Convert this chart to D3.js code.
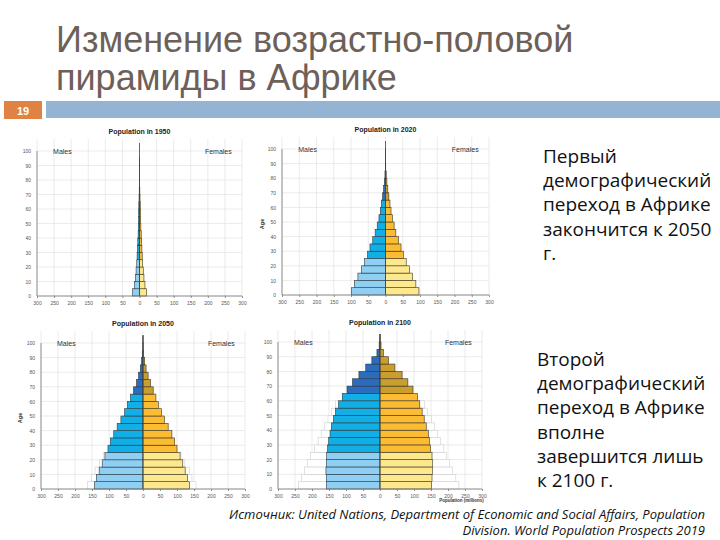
<!DOCTYPE html>
<html lang="ru">
<head>
<meta charset="UTF-8">
<title>Изменение возрастно-половой пирамиды в Африке</title>
<script src="https://d3js.org/d3.v7.min.js"></script>
<style>
  body, html { margin: 0; padding: 0; background: #fff; }
  svg { display: block; }
  .axis text { font-family: "Liberation Sans", Arial, sans-serif; font-size: 5px; fill: #555; }
  .axis path, .axis line { stroke: #777; stroke-width: 0.8; }
</style>
</head>
<body>
<div id="chart"></div>
<script>
// age groups (start of 5-year band), 0-4 ... 100+
const ageStarts = d3.range(0, 105, 5);

// population, millions, per 5-year group
const males1950   = [20, 15, 12, 10, 8, 7, 6, 5, 4, 3.5, 3, 2.5, 2, 1.3, 0.8, 0.4, 0.15, 0.04, 0.01, 0, 0];
const females1950 = [21, 16, 13, 11, 9, 8, 7, 6, 5, 4, 3.5, 3, 2.3, 1.5, 1, 0.5, 0.2, 0.05, 0.01, 0, 0];

const males2020   = [99, 90, 80, 70, 61, 52, 45, 37, 30, 24, 19, 15, 12, 8.5, 5.6, 3.3, 1.6, 0.5, 0.1, 0.01, 0];
const females2020 = [97, 88, 78, 69, 60, 52, 45, 38, 30, 25, 20, 16, 13, 9.7, 6.7, 4.1, 2.1, 0.7, 0.15, 0.02, 0];

const males2050   = [143, 137, 129, 120, 112, 103, 96, 86, 76, 65, 54, 46, 37, 28, 19, 13, 8, 4, 1.5, 0.4, 0.05];
const females2050 = [137, 131, 124, 117, 109, 100, 93, 85, 74, 63, 54, 45, 38, 30, 22, 15, 9, 5, 2, 0.6, 0.1];
const upperMales2050   = [163, 151, 141, 128, 117];
const upperFemales2050 = [156, 144, 136, 123, 112];

const males2100   = [158, 158, 159, 158, 157, 154, 151, 147, 143, 137, 131, 122, 111, 97, 81, 62, 42, 24, 9, 2.5, 0.5];
const females2100 = [152, 153, 154, 154, 153, 149, 145, 142, 136, 130, 124, 117, 110, 97, 82, 65, 44, 25, 10, 3, 0.5];
const upperMales2100   = [240, 231, 222, 213, 204, 193, 182, 173, 164, 153, 142, 131];
const upperFemales2100 = [232, 223, 214, 205, 196, 188, 178, 170, 160, 151, 139, 131];

const xTicks = d3.range(-300, 301, 50);
const ageTicks = d3.range(0, 101, 10);

const noteFirst = ["Первый", "демографический", "переход в Африке", "закончится к 2050", "г."];
const noteSecond = ["Второй", "демографический", "переход в Африке", "вполне", "завершится лишь", "к 2100 г."];

const W = 720, H = 540;
const svg = d3.select("#chart").append("svg").attr("width", W).attr("height", H);

// slide header
const title = svg.append("text")
  .attr("font-family", "'Liberation Sans', Arial, sans-serif")
  .attr("font-size", 36)
  .attr("fill", "#6d6059");
title.append("tspan").attr("x", 56).attr("y", 52).text("Изменение возрастно-половой");
title.append("tspan").attr("x", 56).attr("y", 90).text("пирамиды в Африке");

svg.append("rect").attr("x", 4).attr("y", 101).attr("width", 38).attr("height", 18).attr("fill", "#df8244");
svg.append("text").attr("x", 23).attr("y", 114.5).attr("text-anchor", "middle")
  .attr("font-family", "'Liberation Sans', Arial, sans-serif").attr("font-size", 11).attr("font-weight", "bold")
  .attr("fill", "#fff").text("19");
svg.append("rect").attr("x", 46).attr("y", 101).attr("width", W - 46).attr("height", 17).attr("fill", "#95b3d3");

// colour by broad age band
function maleColor(a) { return a < 25 ? "#8fcff3" : a < 65 ? "#12afe6" : "#2c6cbf"; }
function femaleColor(a) { return a < 25 ? "#fde88e" : a < 65 ? "#fbbb33" : "#c99d2e"; }

function pyramid(p) {
  const x = d3.scaleLinear().domain([-300, 300]).range([p.left, p.right]);
  const y = d3.scaleLinear().domain([0, 100]).range([p.bottom, p.top]);
  const g = svg.append("g");

  // grid
  g.selectAll(".vgrid").data(xTicks).enter().append("line")
    .attr("x1", d => x(d)).attr("x2", d => x(d))
    .attr("y1", y(0)).attr("y2", y(100) - 12)
    .attr("stroke", "#e2e2e2").attr("stroke-width", 0.7);
  g.selectAll(".hgrid").data(ageTicks).enter().append("line")
    .attr("x1", x(-300)).attr("x2", x(300))
    .attr("y1", d => y(d)).attr("y2", d => y(d))
    .attr("stroke", "#e2e2e2").attr("stroke-width", 0.7);

  // upper-bound outlines
  const band = y(0) - y(5);
  g.selectAll(".um").data(p.upperM || []).enter().append("rect")
    .attr("x", d => x(-d)).attr("width", d => x(0) - x(-d))
    .attr("y", (d, i) => y(ageStarts[i] + 5)).attr("height", band)
    .attr("fill", "#fff").attr("stroke", "#cfcfcf").attr("stroke-width", 0.6);
  g.selectAll(".uf").data(p.upperF || []).enter().append("rect")
    .attr("x", x(0)).attr("width", d => x(d) - x(0))
    .attr("y", (d, i) => y(ageStarts[i] + 5)).attr("height", band)
    .attr("fill", "#fff").attr("stroke", "#cfcfcf").attr("stroke-width", 0.6);

  // bars
  g.selectAll(".m").data(p.males).enter().append("rect")
    .attr("x", d => x(-d)).attr("width", d => x(0) - x(-d))
    .attr("y", (d, i) => y(ageStarts[i] + 5)).attr("height", band)
    .attr("fill", (d, i) => maleColor(ageStarts[i]))
    .attr("stroke", "#2d3a40").attr("stroke-width", 0.6);
  g.selectAll(".f").data(p.females).enter().append("rect")
    .attr("x", x(0)).attr("width", d => x(d) - x(0))
    .attr("y", (d, i) => y(ageStarts[i] + 5)).attr("height", band)
    .attr("fill", (d, i) => femaleColor(ageStarts[i]))
    .attr("stroke", "#3a3520").attr("stroke-width", 0.6);

  // centre line
  g.append("line").attr("x1", x(0)).attr("x2", x(0))
    .attr("y1", y(0)).attr("y2", y(100) - 8)
    .attr("stroke", "#444").attr("stroke-width", 0.8);

  // axes
  g.append("g").attr("class", "axis").attr("transform", `translate(0,${y(0)})`)
    .call(d3.axisBottom(x).tickValues(xTicks).tickFormat(d => Math.abs(d)).tickSize(2).tickPadding(3))
    .call(s => s.select(".domain").attr("d", `M${x(-300)},0H${x(300)}`));
  g.append("g").attr("class", "axis").attr("transform", `translate(${x(-300)},0)`)
    .call(d3.axisLeft(y).tickValues(ageTicks).tickSize(0).tickPadding(6))
    .call(s => s.select(".domain").attr("d", `M0,${y(0)}V${y(100)}`));

  g.append("text").attr("x", x(0)).attr("y", p.top - 17).attr("text-anchor", "middle")
    .attr("font-family", "'Liberation Sans', Arial, sans-serif").attr("font-size", 7).attr("font-weight", "bold")
    .attr("fill", "#222").text(p.title);
  g.append("text").attr("x", x(-253)).attr("y", y(100) + 2.5)
    .attr("font-family", "'Liberation Sans', Arial, sans-serif").attr("font-size", 7).attr("fill", "#333").text("Males");
  g.append("text").attr("x", x(270)).attr("y", y(100) + 2.5).attr("text-anchor", "end")
    .attr("font-family", "'Liberation Sans', Arial, sans-serif").attr("font-size", 7).attr("fill", "#333").text("Females");
  if (p.ageLabel) {
    g.append("text").attr("transform", `translate(${p.ageLabel},${y(50) + 2}) rotate(-90)`).attr("text-anchor", "middle")
      .attr("font-family", "'Liberation Sans', Arial, sans-serif").attr("font-size", 5.5).attr("font-weight", "bold")
      .attr("fill", "#333").text("Age");
  }
  if (p.xLabel) {
    g.append("text").attr("x", x(240)).attr("y", y(0) + 13.2).attr("text-anchor", "middle")
      .attr("font-family", "'Liberation Sans', Arial, sans-serif").attr("font-size", 4.5).attr("font-weight", "bold")
      .attr("fill", "#333").text("Population (millions)");
  }
}

pyramid({ title: "Population in 1950", males: males1950, females: females1950,
  left: 37, right: 242, top: 151, bottom: 296 });
pyramid({ title: "Population in 2020", males: males2020, females: females2020,
  left: 282, right: 489, top: 149, bottom: 295, ageLabel: 264 });
pyramid({ title: "Population in 2050", males: males2050, females: females2050,
  upperM: upperMales2050, upperF: upperFemales2050,
  left: 41, right: 245, top: 343, bottom: 489, ageLabel: 22 });
pyramid({ title: "Population in 2100", males: males2100, females: females2100,
  upperM: upperMales2100, upperF: upperFemales2100,
  left: 278, right: 482, top: 342, bottom: 489, xLabel: true });

// side notes
function note(lines, x0, y0) {
  svg.append("g").selectAll("text").data(lines).enter().append("text")
    .attr("x", x0).attr("y", (d, i) => y0 + i * 24.2)
    .attr("font-family", "'Open Sans', 'Noto Sans', sans-serif").attr("font-size", 19)
    .attr("fill", "#111").text(d => d);
}
note(noteFirst, 543, 163);
note(noteSecond, 537, 366);

// source
const src = svg.append("text")
  .attr("font-family", "'Open Sans', 'Noto Sans', sans-serif").attr("font-size", 13)
  .attr("font-style", "italic").attr("fill", "#111").attr("text-anchor", "end");
src.append("tspan").attr("x", 705).attr("y", 518.5).text("Источник: United Nations, Department of Economic and Social Affairs, Population");
src.append("tspan").attr("x", 705).attr("y", 535).text("Division. World Population Prospects 2019");
</script>
</body>
</html>
